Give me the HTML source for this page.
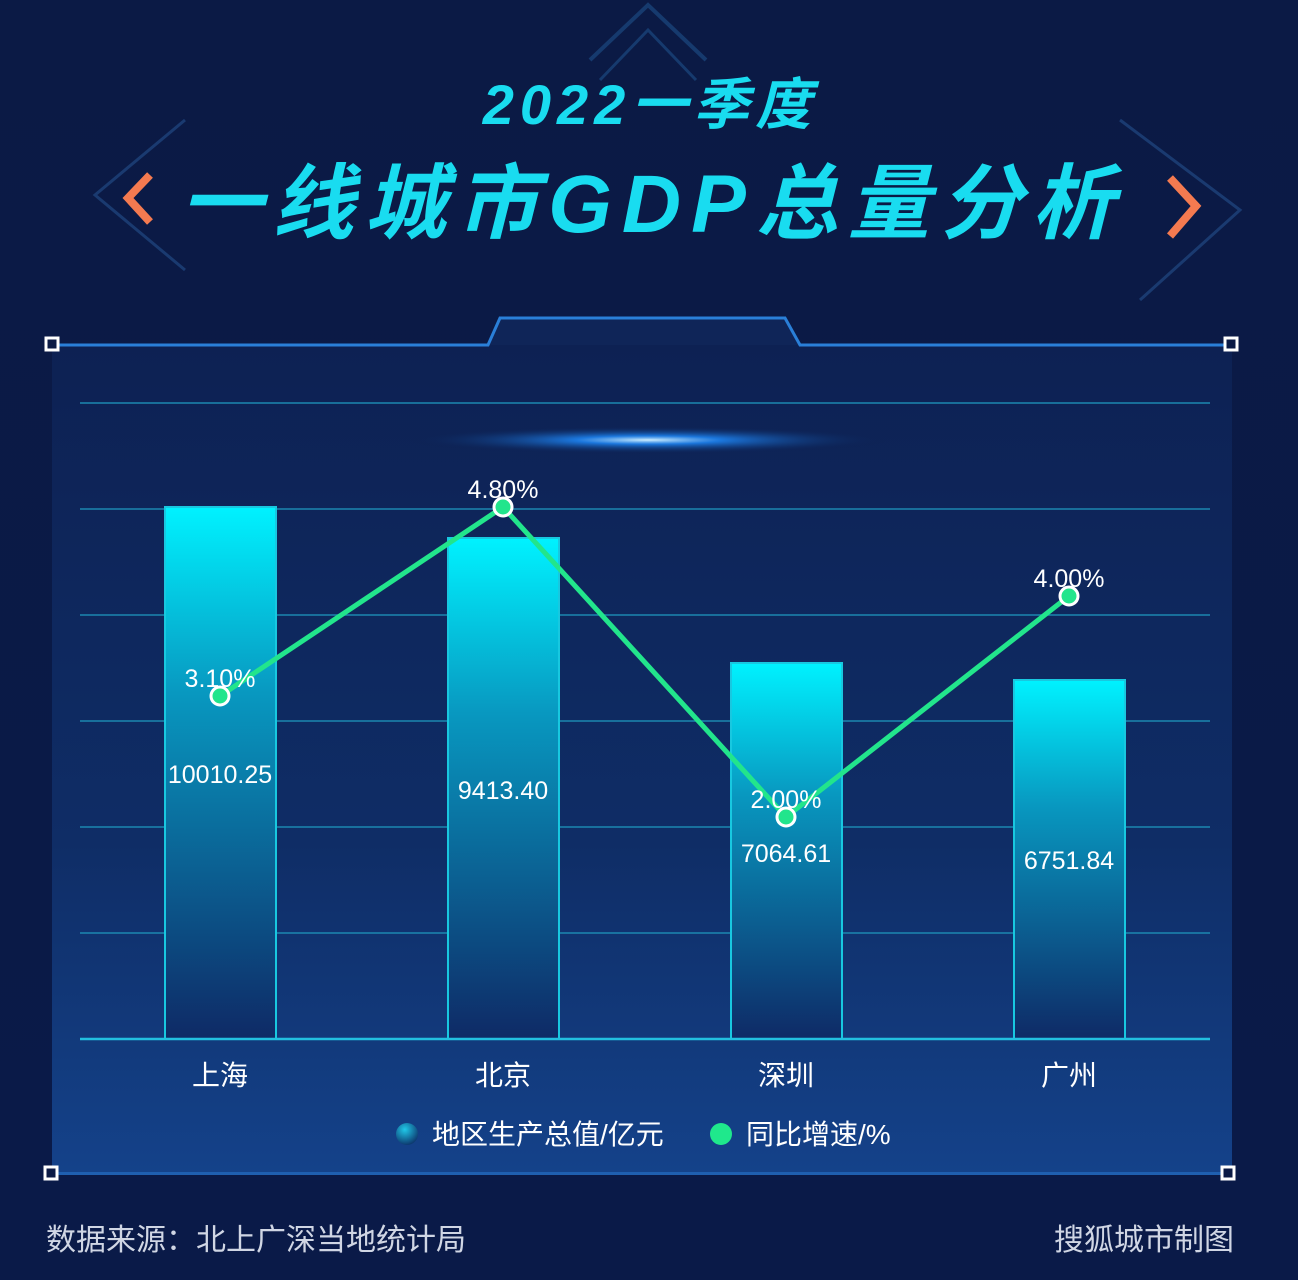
<!DOCTYPE html>
<html><head><meta charset="utf-8"><style>
html,body{margin:0;padding:0;background:#0b1a44;}
svg{display:block;}
text{font-family:"Liberation Sans","Noto Sans CJK SC",sans-serif;}
</style></head><body>
<svg width="1298" height="1280" viewBox="0 0 1298 1280" xmlns="http://www.w3.org/2000/svg">
<defs>
<linearGradient id="bg" x1="0" y1="0" x2="0" y2="1">
<stop offset="0" stop-color="#0b1a45"/><stop offset="1" stop-color="#0a1a48"/></linearGradient>
<linearGradient id="panel" x1="0" y1="0" x2="0" y2="1">
<stop offset="0" stop-color="#0d2153"/><stop offset="0.6" stop-color="#0f2d66"/><stop offset="1" stop-color="#14428a"/></linearGradient>
<linearGradient id="bar" x1="0" y1="0" x2="0" y2="1">
<stop offset="0" stop-color="#00f2ff"/><stop offset="0.35" stop-color="#0898c0"/><stop offset="1" stop-color="#0e2a66"/></linearGradient>
<radialGradient id="glow" cx="0.5" cy="0.5" r="0.5">
<stop offset="0" stop-color="#cfefff"/><stop offset="0.3" stop-color="#1f8cff" stop-opacity="0.8"/><stop offset="1" stop-color="#0b1a45" stop-opacity="0"/></radialGradient>
<radialGradient id="leg1" cx="0.4" cy="0.3" r="0.7">
<stop offset="0" stop-color="#20c8e8"/><stop offset="1" stop-color="#0d3a70"/></radialGradient>
</defs>
<rect width="1298" height="1280" fill="url(#bg)"/>
<path d="M590 60 L648 5 L706 60" fill="none" stroke="#163a6e" stroke-width="4"/>
<path d="M600 80 L648 30 L696 80" fill="none" stroke="#163a6e" stroke-width="3"/>
<path d="M185 120 L95 195 L185 270" fill="none" stroke="#1a3a70" stroke-width="3"/>
<path d="M1120 120 L1240 210 L1140 300" fill="none" stroke="#1a3a70" stroke-width="3"/>
<text x="650" y="124" text-anchor="middle" font-size="56" font-weight="bold" font-style="italic" fill="#19dcf0" letter-spacing="6">2022一季度</text>
<text x="652" y="232" text-anchor="middle" font-size="82" font-weight="bold" font-style="italic" fill="#19dcf0" letter-spacing="10">一线城市GDP总量分析</text>
<path d="M150 175 L128 198 L150 222" fill="none" stroke="#f47a50" stroke-width="8"/>
<path d="M1170 178 L1196 206 L1170 236" fill="none" stroke="#f47a50" stroke-width="8"/>
<rect x="52" y="345" width="1180" height="830" fill="url(#panel)"/>
<path d="M52 345 L488 345 L500 318 L785 318 L800 345 L1232 345" fill="#0f2558" stroke="#2a7fd8" stroke-width="3"/>
<rect x="52" y="1172" width="1180" height="3" fill="#1f5fb0"/>
<rect x="46" y="338" width="12" height="12" fill="#0b1a45" stroke="#fff" stroke-width="3"/>
<rect x="1225" y="338" width="12" height="12" fill="#0b1a45" stroke="#fff" stroke-width="3"/>
<rect x="45" y="1167" width="12" height="12" fill="#0b1a45" stroke="#fff" stroke-width="3"/>
<rect x="1222" y="1167" width="12" height="12" fill="#0b1a45" stroke="#fff" stroke-width="3"/>
<ellipse cx="648" cy="440" rx="240" ry="14" fill="url(#glow)"/>
<g stroke="#1c87b0" stroke-width="1.5">
<line x1="80" y1="403" x2="1210" y2="403"/><line x1="80" y1="509" x2="1210" y2="509"/>
<line x1="80" y1="615" x2="1210" y2="615"/><line x1="80" y1="721" x2="1210" y2="721"/>
<line x1="80" y1="827" x2="1210" y2="827"/><line x1="80" y1="933" x2="1210" y2="933"/>
</g>
<g stroke="#18c8e0" stroke-width="2" fill="url(#bar)">
<rect x="165" y="507" width="111" height="532"/>
<rect x="448" y="538" width="111" height="501"/>
<rect x="731" y="663" width="111" height="376"/>
<rect x="1014" y="680" width="111" height="359"/>
</g>
<line x1="80" y1="1039" x2="1210" y2="1039" stroke="#22c0e0" stroke-width="2.5"/>
<g font-size="25" fill="#ffffff" text-anchor="middle">
<text x="220" y="783">10010.25</text>
<text x="503" y="799">9413.40</text>
<text x="786" y="862">7064.61</text>
<text x="1069" y="869">6751.84</text>
</g>
<polyline points="220,696 503,507 786,817 1069,596" fill="none" stroke="#22e58c" stroke-width="5"/>
<g fill="#22e58c" stroke="#ffffff" stroke-width="3">
<circle cx="220" cy="696" r="9"/><circle cx="503" cy="507" r="9"/><circle cx="786" cy="817" r="9"/><circle cx="1069" cy="596" r="9"/>
</g>
<g font-size="25" fill="#ffffff" text-anchor="middle">
<text x="220" y="687">3.10%</text>
<text x="503" y="498">4.80%</text>
<text x="786" y="808">2.00%</text>
<text x="1069" y="587">4.00%</text>
</g>
<g font-size="28" fill="#ffffff" text-anchor="middle">
<text x="220" y="1085">上海</text><text x="503" y="1085">北京</text>
<text x="786" y="1085">深圳</text><text x="1069" y="1085">广州</text>
</g>
<circle cx="407" cy="1134" r="11" fill="url(#leg1)"/>
<text x="432" y="1144" font-size="28" fill="#ffffff">地区生产总值/亿元</text>
<circle cx="721" cy="1134" r="11" fill="#1fe88c"/>
<text x="746" y="1144" font-size="28" fill="#ffffff">同比增速/%</text>
<text x="46" y="1250" font-size="30" fill="#d0d6e4">数据来源：北上广深当地统计局</text>
<text x="1234" y="1250" font-size="30" fill="#d0d6e4" text-anchor="end">搜狐城市制图</text>
</svg>
</body></html>
